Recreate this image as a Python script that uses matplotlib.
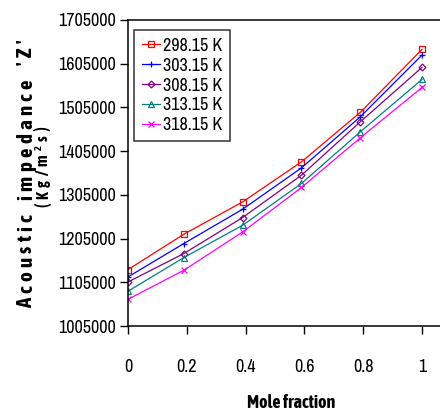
import matplotlib
matplotlib.use("Agg")
import matplotlib.pyplot as plt

# data
mole_fraction = [0.0, 0.19, 0.39, 0.59, 0.79, 1.0]
z_29815 = [1134000, 1215000, 1289000, 1380500, 1493700, 1637900]
z_30315 = [1117200, 1193700, 1272200, 1366800, 1483600, 1624900]
z_30815 = [1105700, 1170800, 1253200, 1350100, 1472100, 1596700]
z_31315 = [1084500, 1161600, 1235600, 1331100, 1449200, 1569200]
z_31815 = [1066100, 1132500, 1220200, 1321900, 1435500, 1550900]
labels = ["298.15 K", "303.15 K", "308.15 K", "313.15 K", "318.15 K"]
y_ticks = [1005000, 1105000, 1205000, 1305000, 1405000, 1505000, 1605000, 1705000]
x_ticks = [0, 0.2, 0.4, 0.6, 0.8, 1]

W, H = 440, 415
NARROW = ["Archivo Narrow", "Liberation Sans", "DejaVu Sans"]
COND_BOLD = ["Asap Condensed", "Liberation Sans", "DejaVu Sans"]

styles = [
    ("#FF0000", "s", dict(mfc="none")),
    ("#0000FF", "+", dict()),
    ("#800080", "D", dict(mfc="none", ms=3.5)),
    ("#008080", "^", dict(mfc="none")),
    ("#FF00FF", "x", dict()),
]


def fit_text(fig, t, target_px):
    r = fig.canvas.get_renderer()
    t.set_fontsize(t.get_fontsize() * target_px / t.get_window_extent(r).width)


def tracked_vertical(fig, chars, x_base, y_bottom, y_top, size):
    """Letter-spaced bold text reading bottom->top, spread between two pixel rows.
    chars: list of (char, scale, raise_px)."""
    r = fig.canvas.get_renderer()
    widths = []
    for ch, sc, _ in chars:
        if ch == " ":
            widths.append(0.28 * size * sc * 100 / 72)
            continue
        t = fig.text(0, 0, ch, fontsize=size * sc, family=COND_BOLD, fontweight="bold")
        widths.append(t.get_window_extent(r).width)
        t.remove()
    track = ((y_bottom - y_top) - sum(widths)) / (len(chars) - 1)
    y = y_bottom
    for (ch, sc, up), w in zip(chars, widths):
        if ch != " ":
            fig.text((x_base - up) / W, 1 - y / H, ch, rotation=90, rotation_mode="anchor",
                     ha="left", va="baseline", fontsize=size * sc, family=COND_BOLD,
                     fontweight="bold")
        y -= w + track


fig = plt.figure(figsize=(W / 100, H / 100), dpi=100)
ax = fig.add_axes([128 / W, 1 - 326 / H, 1 - 128 / W, (326 - 20) / H])

series = [z_29815, z_30315, z_30815, z_31315, z_31815]
for ys, lab, (c, m, kw) in zip(series, labels, styles):
    opts = dict(ms=4.5, mew=0.9)
    opts.update(kw)
    ax.plot(mole_fraction, ys, color=c, marker=m, lw=0.9, label=lab, **opts)

ax.set_xlim(0, 1.061)
ax.set_ylim(1005000, 1705000)
ax.set_xticks(x_ticks)
ax.set_xticklabels(["0", "0.2", "0.4", "0.6", "0.8", "1"], family=NARROW, fontsize=13)
ax.set_yticks(y_ticks)
ax.set_yticklabels([str(v) for v in y_ticks], family=NARROW, fontsize=13)
ax.tick_params(axis="x", direction="out", length=6, width=1, pad=18)
ax.tick_params(axis="y", direction="out", length=6, width=1, pad=3)
ax.spines["right"].set_visible(False)
for s in ("left", "bottom", "top"):
    ax.spines[s].set_linewidth(1.1)

leg = ax.legend(loc="upper left", bbox_to_anchor=(6 / 312, 1 - 10 / 306), frameon=True,
                fancybox=False, prop={"family": NARROW, "size": 13}, handlelength=1.0,
                handletextpad=0.2, labelspacing=0.22, borderpad=0.42, borderaxespad=0)
leg.get_frame().set_edgecolor("black")
leg.get_frame().set_linewidth(1.1)

xl = fig.text(291 / W, 1 - 403 / H, "Mole fraction", ha="center", va="center",
              family=COND_BOLD, fontsize=12, fontweight="bold")
fit_text(fig, xl, 88)

# y label, two letter-spaced rows
line1 = [(ch, 1.0, 0) for ch in "Acoustic impedance 'Z'"]
tracked_vertical(fig, line1, 32, 308, 40, 15)
line2 = [(ch, 1.0, 0) for ch in "(Kg/m"] + [("2", 0.65, 6)] + [(ch, 1.0, 0) for ch in "s)"]
tracked_vertical(fig, line2, 48, 207, 127, 11.5)

fig.savefig("out.png", dpi=100, facecolor="white")
